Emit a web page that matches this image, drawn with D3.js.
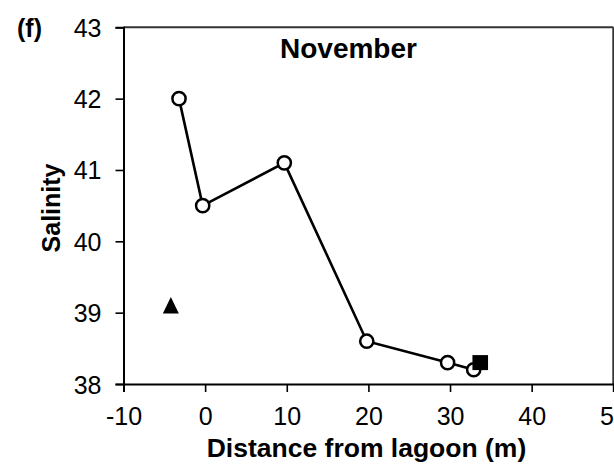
<!DOCTYPE html>
<html>
<head>
<meta charset="utf-8">
<script src="https://cdn.jsdelivr.net/npm/d3@7"></script>
<style>
  html, body { margin: 0; padding: 0; background: #fff; }
  svg { display: block; font-family: "Liberation Sans", Arial, sans-serif; }
</style>
</head>
<body>
<svg id="chart" width="614" height="469"></svg>
<script>
// Salinity transect, November
const distance = [-3.2, -0.3, 9.7, 19.8, 29.7, 32.9];
const salinity = [42.0, 40.5, 41.1, 38.6, 38.3, 38.2];
const lagoonPoint = { distance: -4.2, salinity: 39.1 };   // filled triangle
const seaPoint = { distance: 33.7, salinity: 38.3 };      // filled square
const xTicks = [-10, 0, 10, 20, 30, 40, 50];
const yTicks = [38, 39, 40, 41, 42, 43];

const svg = d3.select("#chart");
const margin = { left: 123.5, right: 0.7, top: 27.3, bottom: 85 };
const W = 614, H = 469;

const x = d3.scaleLinear().domain([-10, 50]).range([margin.left, W - margin.right]);
const y = d3.scaleLinear().domain([38, 43]).range([H - margin.bottom, margin.top]);

// plain hyphen for negative numbers
const fmt = d => String(d);

// frame (top and right)
svg.append("line")
  .attr("x1", x(-10)).attr("x2", x(50)).attr("y1", y(43)).attr("y2", y(43))
  .attr("stroke", "#333").attr("stroke-width", 2);
svg.append("line")
  .attr("x1", x(50)).attr("x2", x(50)).attr("y1", y(43)).attr("y2", y(38))
  .attr("stroke", "#333").attr("stroke-width", 2);

// axes
const xAxis = svg.append("g")
  .attr("transform", `translate(0,${y(38)})`)
  .call(d3.axisBottom(x).tickValues(xTicks).tickSize(8).tickPadding(15).tickFormat(fmt));
const yAxis = svg.append("g")
  .attr("transform", `translate(${x(-10)},0)`)
  .call(d3.axisLeft(y).tickValues(yTicks).tickSize(8).tickPadding(14).tickFormat(fmt));

[xAxis, yAxis].forEach(g => {
  g.select(".domain").attr("stroke", "#000").attr("stroke-width", 2);
  g.selectAll(".tick line").attr("stroke", "#000").attr("stroke-width", 1.6);
  g.selectAll(".tick text")
    .attr("fill", "#000")
    .style("font-size", "25px")
    .style("font-family", "'Liberation Sans', Arial, sans-serif");
});
yAxis.selectAll(".tick text").attr("dy", "0.36em");
xAxis.selectAll(".tick text").attr("dy", "0.72em");

// connecting line
const pts = distance.map((d, i) => [d, salinity[i]]);
svg.append("path")
  .datum(pts)
  .attr("fill", "none")
  .attr("stroke", "#000")
  .attr("stroke-width", 2.6)
  .attr("d", d3.line().x(d => x(d[0])).y(d => y(d[1])));

// open circles
svg.selectAll("circle.obs")
  .data(pts)
  .join("circle")
  .attr("class", "obs")
  .attr("cx", d => x(d[0]))
  .attr("cy", d => y(d[1]))
  .attr("r", 6.6)
  .attr("fill", "#fff")
  .attr("stroke", "#000")
  .attr("stroke-width", 2.5);

// filled triangle
const tx = x(lagoonPoint.distance), ty = y(lagoonPoint.salinity);
svg.append("path")
  .attr("d", `M${tx},${ty - 8.5}L${tx + 8},${ty + 8}L${tx - 8},${ty + 8}Z`)
  .attr("fill", "#000");

// filled square
const sx = x(seaPoint.distance), sy = y(seaPoint.salinity);
svg.append("rect")
  .attr("x", sx - 7.8).attr("y", sy - 7.5)
  .attr("width", 15.6).attr("height", 15)
  .attr("fill", "#000");

// titles and labels
svg.append("text")
  .attr("x", 280).attr("y", 58)
  .attr("text-anchor", "start")
  .style("font-size", "28px").style("font-weight", "bold")
  .text("November");

svg.append("text")
  .attr("x", 17).attr("y", 37)
  .style("font-size", "25px").style("font-weight", "bold")
  .text("(f)");

svg.append("text")
  .attr("transform", `translate(60,208) rotate(-90)`)
  .attr("text-anchor", "middle")
  .style("font-size", "25px").style("font-weight", "bold")
  .text("Salinity");

svg.append("text")
  .attr("x", 366.5).attr("y", 457)
  .attr("text-anchor", "middle")
  .style("font-size", "26.5px").style("font-weight", "bold")
  .text("Distance from lagoon (m)");
</script>
</body>
</html>
